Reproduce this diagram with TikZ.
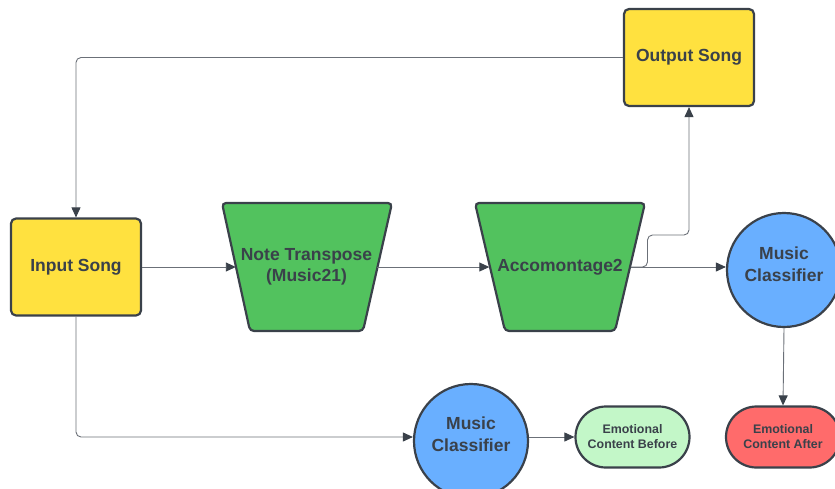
\documentclass[tikz,border=0pt]{standalone}
\usepackage{fontspec}
\setmainfont{Liberation Sans}
\usetikzlibrary{arrows.meta,shapes.misc}
\definecolor{ink}{HTML}{3A414A}
\definecolor{wire}{HTML}{6B7078}
\definecolor{yel}{HTML}{FFE13F}
\definecolor{grn}{HTML}{52C25E}
\definecolor{blu}{HTML}{69AFFF}
\definecolor{lgrn}{HTML}{C3F7C8}
\definecolor{red}{HTML}{FF6B6B}
\tikzset{
  songbox/.style={draw=ink,line width=2.2pt,fill=yel,rounded corners=5pt,minimum width=130pt,minimum height=97pt,inner sep=0pt,font=\fontsize{17.5}{20}\selectfont\bfseries,text=ink},
  trap/.style={draw=ink,line width=2.2pt,fill=grn,rounded corners=4pt},
  traptext/.style={inner sep=0pt,minimum width=141pt,minimum height=128pt,align=center,font=\fontsize{17.5}{21}\selectfont\bfseries,text=ink},
  classifier/.style={circle,draw=ink,line width=2.2pt,fill=blu,minimum size=114pt,inner sep=0pt,align=center,font=\fontsize{17.5}{22}\selectfont\bfseries,text=ink},
  emo/.style={rounded rectangle,draw=ink,line width=2.2pt,minimum width=114pt,minimum height=61pt,inner sep=0pt,align=center,font=\fontsize{12.4}{15}\selectfont\bfseries,text=ink},
  conn/.style={draw=wire,line width=0.9pt,rounded corners=5pt,-{Triangle[length=10pt,width=9pt,fill=ink,color=ink]}},
}
\begin{document}
\begin{tikzpicture}[x=1pt,y=1pt]
\useasboundingbox (0,0) rectangle (835,-488);
% nodes
\node[songbox] (input) at (76,-267) {Input Song};
\node[songbox] (output) at (689,-57.5) {Output Song};
\draw[trap] (222,-203) -- (392,-203) -- (363,-331) -- (250,-331) -- cycle;
\node[traptext] (nt) at (306.5,-267) {Note Transpose\\(Music21)};
\draw[trap] (475,-203) -- (645,-203) -- (615,-331) -- (505,-331) -- cycle;
\node[traptext] (acc) at (560,-267) {Accomontage2};
\node[classifier] (mc1) at (784,-270) {Music\\Classifier\\[-10pt]};
\node[classifier] (mc2) at (471,-441) {Music\\Classifier\\[-8pt]};
\node[emo,fill=lgrn] (before) at (632.5,-437) {Emotional\\Content Before};
\node[emo,fill=red] (after) at (783,-437) {Emotional\\Content After};
\coordinate (j1) at (647.5,-267);
% connectors
\draw[conn] (output.west) -| (input.north);
\draw[conn] (input.east) -- (nt.west);
\draw[conn] (nt.east) -- (acc.west);
\draw[conn] (acc.east) -- (acc.east -| mc1.west);
\draw[conn] (acc.east) -- (j1) |- (669,-235) -| (output.south);
\draw[conn] (input.south) |- (mc2.west |- before.west);
\draw[conn] (mc2.east |- before.west) -- (before.west);
\draw[conn] (mc1.south) -- (after.north);
\end{tikzpicture}
\end{document}
